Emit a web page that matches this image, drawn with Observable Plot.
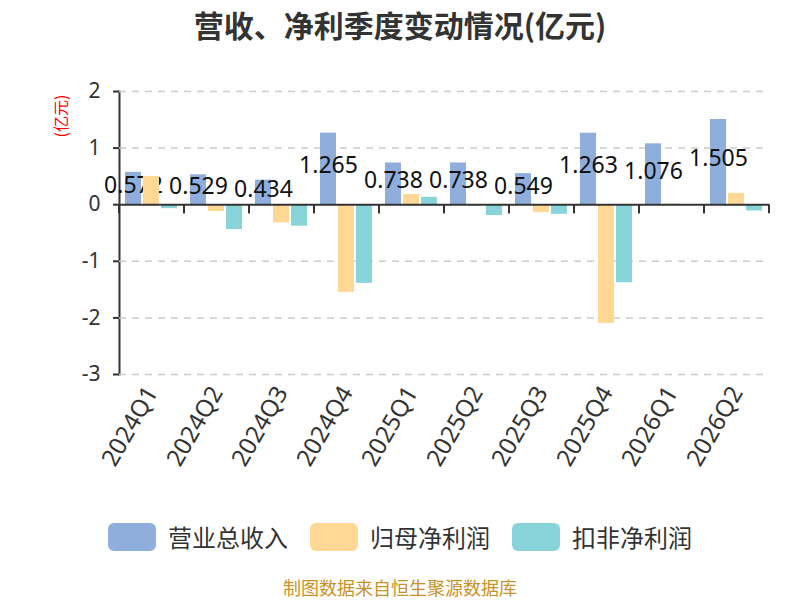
<!DOCTYPE html>
<html>
<head>
<meta charset="utf-8">
<script src="https://cdn.jsdelivr.net/npm/d3@7"></script>
<script src="https://cdn.jsdelivr.net/npm/@observablehq/plot@0.6"></script>
<style>
  body { margin: 0; background: #fff; }
  #wrap { position: relative; width: 800px; height: 600px; font-family: "Noto Sans", "Noto Sans CJK SC", sans-serif; }
  #chart { position: absolute; left: 0; top: 0; }
  #title { position: absolute; top: 4px; left: 0; width: 800px; text-align: center; line-height: 40px; font-family: "Noto Sans CJK SC", sans-serif; font-size: 30px; font-weight: bold; color: #333; }
  #unit { position: absolute; left: 60px; top: 116px; transform: translate(-50%, -50%) rotate(-90deg); font-family: "Noto Sans CJK SC", sans-serif; font-size: 16px; line-height: 16px; color: #ff0000; white-space: nowrap; }
  #legend { position: absolute; top: 519px; left: 0; width: 800px; display: flex; justify-content: center; align-items: center; gap: 22px; font-family: "Noto Sans CJK SC", sans-serif; font-size: 24px; color: #333; }
  .item { display: flex; align-items: center; gap: 12px; }
  .sw { width: 48px; height: 28px; border-radius: 6px; display: inline-block; }
  #footer { position: absolute; top: 577px; left: 0; width: 800px; text-align: center; line-height: 20px; font-family: "Noto Sans CJK SC", sans-serif; font-size: 18px; color: #C8922A; }
  svg g[aria-label="fx-axis tick label"] { font-size: 24px; }
  svg g[aria-label="y-axis tick label"] { font-size: 21px; }
  svg [aria-label="frame"], svg [aria-label="frame"] *, svg g[aria-label="y-axis tick"] { stroke-width: 2px; stroke: #333; }
</style>
</head>
<body>
<div id="wrap">
  <div id="chart"></div>
  <div id="title">营收、净利季度变动情况(亿元)</div>
  <div id="unit">(亿元)</div>
  <div id="legend"></div>
  <div id="footer">制图数据来自恒生聚源数据库</div>
</div>
<script>
const quarters = ["2024Q1","2024Q2","2024Q3","2024Q4","2025Q1","2025Q2","2025Q3","2025Q4","2026Q1","2026Q2"];
const seriesNames = ["营业总收入","归母净利润","扣非净利润"];
const revenue = [0.572, 0.529, 0.434, 1.265, 0.738, 0.738, 0.549, 1.263, 1.076, 1.505];
const netProfit = [0.50, -0.12, -0.32, -1.55, 0.18, -0.02, -0.14, -2.10, 0.01, 0.20];
const deductedProfit = [-0.07, -0.44, -0.38, -1.39, 0.13, -0.19, -0.17, -1.38, -0.005, -0.11];
const colors = ["#8FAEDC", "#FFD896", "#88D4D8"];
const yTicks = [2, 1, 0, -1, -2, -3];

const seriesValues = [revenue, netProfit, deductedProfit];
const rows = quarters.flatMap((q, i) =>
  seriesNames.map((s, k) => ({quarter: q, series: s, value: seriesValues[k][i]}))
);

// small ticks at the category boundaries on the zero line (drawn in every facet)
function boundaryTicks(index, scales, values, dimensions) {
  const {width, marginLeft, marginRight} = dimensions;
  const y0 = scales.y(0);
  const g = d3.create("svg:g");
  for (const x of [marginLeft, width - marginRight]) {
    g.append("line")
      .attr("x1", x).attr("x2", x)
      .attr("y1", y0).attr("y2", y0 + 9)
      .attr("stroke", "#333").attr("stroke-width", 2);
  }
  return g.node();
}

const bySeries = (k) => (d) => d.series === seriesNames[k];

const chart = Plot.plot({
  width: 800,
  height: 600,
  marginLeft: 117,
  marginRight: 29,
  marginTop: 91,
  marginBottom: 226,
  style: {fontSize: "20px", fontFamily: "'Noto Sans', 'Noto Sans CJK SC', sans-serif", color: "#333", background: "transparent"},
  facet: {data: rows, x: "quarter"},
  fx: {domain: quarters, paddingInner: 0, paddingOuter: 0, label: null, axis: "bottom", tickRotate: -60, tickSize: 0, tickPadding: 14},
  x: {domain: seriesNames, paddingInner: 0.11, paddingOuter: 0.35, axis: null},
  y: {domain: [-3, 2], ticks: yTicks, tickFormat: (d) => String(d), label: null, tickSize: 6, tickPadding: 13, line: true},
  color: {domain: seriesNames, range: colors},
  marks: [
    Plot.ruleY(yTicks.filter((d) => d !== 0), {stroke: "#ccc", strokeWidth: 1.5, strokeDasharray: "7,6"}),
    Plot.barY(rows, {filter: bySeries(0), x: "series", y: "value", fill: "series"}),
    Plot.text(rows, {filter: bySeries(0), x: "series", y: (d) => d.value / 2, text: (d) => d.value.toFixed(3), fontSize: 23, fill: "#111", dy: -3}),
    Plot.barY(rows, {filter: bySeries(1), x: "series", y: "value", fill: "series"}),
    Plot.barY(rows, {filter: bySeries(2), x: "series", y: "value", fill: "series"}),
    Plot.ruleY([0], {stroke: "#333", strokeWidth: 2}),
    boundaryTicks
  ]
});
document.getElementById("chart").appendChild(chart);

const legend = document.getElementById("legend");
seriesNames.forEach((s, k) => {
  const item = document.createElement("div");
  item.className = "item";
  const sw = document.createElement("span");
  sw.className = "sw";
  sw.style.background = colors[k];
  const label = document.createElement("span");
  label.textContent = s;
  item.appendChild(sw);
  item.appendChild(label);
  legend.appendChild(item);
});
</script>
</body>
</html>
